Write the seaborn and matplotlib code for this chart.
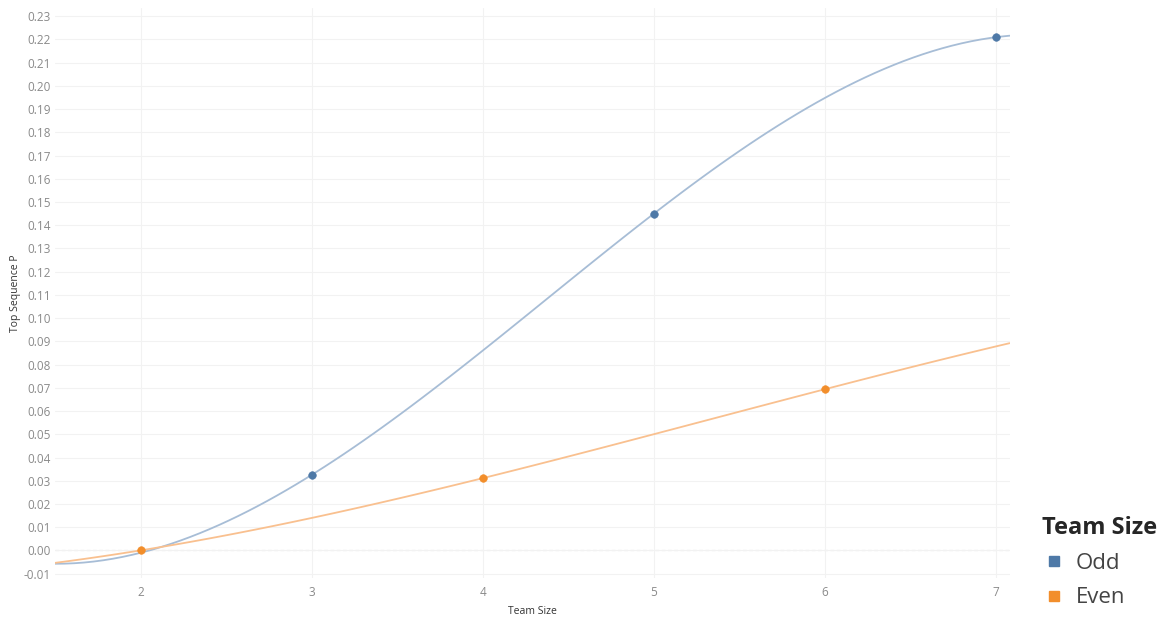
import numpy as np
import pandas as pd
import matplotlib
matplotlib.use("Agg")
import matplotlib.pyplot as plt
import seaborn as sns
from matplotlib.lines import Line2D

sns.set_theme(style="white")
plt.rcParams["font.family"] = ["Open Sans", "DejaVu Sans"]

# data (sizes 1 and 8 lie outside the visible x range)
odd_size = [1, 3, 5, 7]
odd_p = [0.0, 0.0325, 0.145, 0.221]
even_size = [2, 4, 6, 8]
even_p = [0.0, 0.0311, 0.0694, 0.104]

BLUE = "#4e79a7"
ORANGE = "#f28e2b"

fig = plt.figure(figsize=(11.7, 6.26), dpi=100)
ax = fig.add_axes([0.047, 0.077, 0.816, 0.91])
ax.set_xlim(1.5, 7.08)
ax.set_ylim(-0.0118, 0.2335)

# polynomial trend lines
sns.regplot(x=odd_size, y=odd_p, order=3, ci=None, scatter=False, truncate=False,
            line_kws={"color": "#a7bdd6", "lw": 1.3}, ax=ax)
sns.regplot(x=even_size, y=even_p, order=3, ci=None, scatter=False, truncate=False,
            line_kws={"color": "#f9c08f", "lw": 1.3}, ax=ax)

sns.scatterplot(x=odd_size, y=odd_p, color=BLUE, s=30, edgecolor=BLUE, ax=ax, zorder=5)
sns.scatterplot(x=even_size, y=even_p, color=ORANGE, s=30, edgecolor=ORANGE, ax=ax, zorder=5)
ax.set_xlim(1.5, 7.08)
ax.set_ylim(-0.0118, 0.2335)

yticks = np.round(np.arange(-0.01, 0.2301, 0.01), 2)
ax.set_yticks(yticks)
ax.set_yticklabels([f"{v:.2f}" for v in yticks])
ax.set_xticks([2, 3, 4, 5, 6, 7])
ax.tick_params(axis="both", colors="#8a8a8a", labelsize=8.5, length=0, pad=3)
ax.tick_params(axis="x", pad=6)
ax.grid(True, color="#f2f2f2", lw=0.8)
ax.axhline(0, color="#e0e0e0", lw=0.9, ls=(0, (3, 2)), zorder=0)
for s in ax.spines.values():
    s.set_visible(False)

ax.set_xlabel("Team Size", fontsize=7.5, color="#333333", labelpad=5)
ax.set_ylabel("Top Sequence P", fontsize=7.5, color="#333333", labelpad=2)

handles = [Line2D([], [], marker="s", ls="", color=BLUE, markersize=7),
           Line2D([], [], marker="s", ls="", color=ORANGE, markersize=7)]
leg = fig.legend(handles, ["Odd", "Even"], title="Team Size", loc="upper left",
                 bbox_to_anchor=(0.891, 0.176), frameon=False, fontsize=16,
                 title_fontsize=17, handletextpad=0.5, handlelength=1.0,
                 labelspacing=0.6, borderaxespad=0, borderpad=0)
leg.get_title().set_fontweight("bold")
leg._legend_box.align = "left"
for t in leg.get_texts():
    t.set_color("#444444")

plt.savefig("out.png", dpi=100)
plt.close()
